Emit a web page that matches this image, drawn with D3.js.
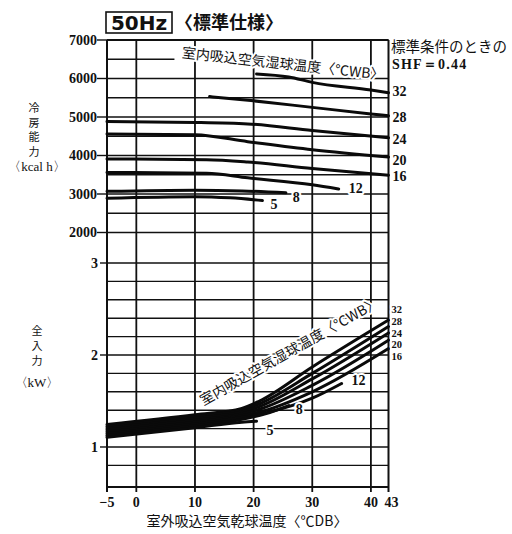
<!DOCTYPE html>
<html>
<head>
<meta charset="utf-8">
<script src="https://cdn.jsdelivr.net/npm/d3@7"></script>
<style>
	body { margin: 0; background: #fff; }
	svg { display: block; }
	.grid { stroke: #111; stroke-width: 1.4; fill: none; }
	.vgrid { stroke: #111; stroke-width: 1.8; fill: none; }
	.frame { stroke: #111; stroke-width: 2; fill: none; }
	.curve { stroke: #0a0a0a; stroke-width: 3; fill: none; stroke-linecap: round; }
	.num { font-family: "Liberation Serif", serif; font-weight: bold; fill: #111; }
	.jp { font-family: "Noto Sans CJK JP", sans-serif; fill: #111; }
	.halo { stroke: #fff; stroke-width: 4; paint-order: stroke; stroke-linejoin: round; }
</style>
</head>
<body>
<svg id="chart"></svg>
<script>
// Outdoor intake air dry bulb temperature (°C DB).
var dbTicks = [-5, 0, 10, 20, 30, 40, 43];
var dbTickLabels = ["−5", "0", "10", "20", "30", "40", "43"];

// Cooling capacity (kcal/h), upper part of the chart.
var capacityTicks = [2000, 3000, 4000, 5000, 6000, 7000];
var capacityGrid = [2000, 2500, 3000, 3500, 4000, 4500, 5000, 5500, 6000, 6500, 7000];

// Input power (kW), lower part of the chart.
var powerTicks = [1, 2, 3];
var powerGrid = [0.8, 1.0, 1.2, 1.4, 1.6, 1.8, 2.0, 2.2, 2.4, 2.6, 2.8, 3.0];

// Indoor intake air wet bulb temperature of each curve (°C WB).
var wetBulbs = [32, 28, 24, 20, 16, 12, 8, 5];

// Capacity curves, [°C DB, kcal/h].
var capacity32 = [[20.5, 6120], [26, 6040], [30, 5900], [40, 5700], [43, 5630]];
var capacity28 = [[12.5, 5530], [20, 5420], [30, 5250], [40, 5080], [43, 5030]];
var capacity24 = [[-5, 4880], [10, 4860], [19, 4820], [30, 4650], [43, 4460]];
var capacity20 = [[-5, 4560], [10, 4540], [19, 4360], [30, 4150], [43, 3960]];
var capacity16 = [[-5, 3910], [12, 3890], [19, 3830], [30, 3660], [43, 3490]];
var capacity12 = [[-5, 3560], [12, 3540], [19, 3420], [30, 3240], [34.5, 3130]];
var capacity8 = [[-5, 3070], [10, 3100], [18, 3080], [25.5, 3030]];
var capacity5 = [[-5, 2890], [10, 2930], [16, 2900], [21.5, 2830]];

// Input power curves, [°C DB, kW].
var power32 = [[-5, 1.245], [10, 1.35], [18, 1.42], [21, 1.50], [30, 1.87], [43, 2.38]];
var power28 = [[-5, 1.225], [10, 1.33], [18, 1.40], [21, 1.47], [30, 1.80], [43, 2.31]];
var power24 = [[-5, 1.205], [10, 1.31], [18, 1.38], [21, 1.44], [30, 1.74], [43, 2.24]];
var power20 = [[-5, 1.185], [10, 1.29], [18, 1.36], [21, 1.41], [30, 1.67], [43, 2.16]];
var power16 = [[-5, 1.165], [10, 1.27], [18, 1.34], [21, 1.38], [30, 1.60], [43, 2.07]];
var power12 = [[-5, 1.145], [10, 1.25], [18, 1.32], [22, 1.37], [30, 1.53], [35, 1.69]];
var power8 = [[-5, 1.125], [10, 1.23], [18, 1.30], [22, 1.36], [26, 1.45]];
var power5 = [[-5, 1.105], [10, 1.21], [18, 1.27], [20.5, 1.28]];

var capacitySeries = [capacity32, capacity28, capacity24, capacity20, capacity16, capacity12, capacity8, capacity5];
var powerSeries = [power32, power28, power24, power20, power16, power12, power8, power5];


/*********
* Setup *
*********/
var width = 512;
var height = 534;

var svg = d3.select("#chart")
	.attr("width", width)
	.attr("height", height);

var x = d3.scaleLinear().domain([-5, 43]).range([107, 388.5]);
var yCap = d3.scaleLinear().domain([2000, 7000]).range([232.5, 40]);
var yPow = d3.scaleLinear().domain([0.565, 3]).range([487, 263]);

var plotTop = yCap(7000);
var plotBottom = yPow(0.565);


/********
* Grid *
********/
// Horizontal lines. The 6500 line is broken off where the wet bulb label sits.
capacityGrid.forEach(function(v)
{
	svg.append("line").attr("class", "grid")
		.attr("x1", x(-5)).attr("x2", v == 6500 ? x(6.5) : x(43))
		.attr("y1", yCap(v)).attr("y2", yCap(v));
});
powerGrid.forEach(function(v)
{
	svg.append("line").attr("class", "grid")
		.attr("x1", x(-5)).attr("x2", x(43))
		.attr("y1", yPow(v)).attr("y2", yPow(v));
});

// Vertical lines, the outer two are the frame.
dbTicks.forEach(function(d)
{
	svg.append("line").attr("class", (d == -5 || d == 43) ? "frame" : "vgrid")
		.attr("x1", x(d)).attr("x2", x(d))
		.attr("y1", plotTop).attr("y2", plotBottom + 5);
});
svg.append("line").attr("class", "frame")
	.attr("x1", x(-5)).attr("x2", x(43))
	.attr("y1", plotTop).attr("y2", plotTop);
svg.append("line").attr("class", "frame")
	.attr("x1", x(-5)).attr("x2", x(43))
	.attr("y1", plotBottom).attr("y2", plotBottom);

// Tick marks on the left.
capacityTicks.forEach(function(v)
{
	svg.append("line").attr("class", "grid")
		.attr("x1", x(-5) - 10).attr("x2", x(-5))
		.attr("y1", yCap(v)).attr("y2", yCap(v));
});
powerTicks.forEach(function(v)
{
	svg.append("line").attr("class", "grid")
		.attr("x1", x(-5) - 7).attr("x2", x(-5))
		.attr("y1", yPow(v)).attr("y2", yPow(v));
});


/***************
* Tick labels *
***************/
svg.selectAll(".capLabel")
	.data(capacityTicks)
	.enter()
	.append("text")
	.attr("class", "num capLabel")
	.attr("x", x(-5) - 10)
	.attr("y", function(d) { return yCap(d); })
	.attr("dy", "0.35em")
	.attr("text-anchor", "end")
	.style("font-size", "14px")
	.text(function(d) { return d; });

svg.selectAll(".powLabel")
	.data(powerTicks)
	.enter()
	.append("text")
	.attr("class", "num powLabel")
	.attr("x", x(-5) - 9)
	.attr("y", function(d) { return yPow(d); })
	.attr("dy", "0.35em")
	.attr("text-anchor", "end")
	.style("font-size", "14px")
	.text(function(d) { return d; });

svg.selectAll(".dbLabel")
	.data(dbTicks)
	.enter()
	.append("text")
	.attr("class", "num dbLabel")
	.attr("x", function(d) { return x(d) + (d == 43 ? 3 : 0); })
	.attr("y", plotBottom + 20)
	.attr("text-anchor", "middle")
	.style("font-size", "14px")
	.text(function(d, i) { return dbTickLabels[i]; });


/**********
* Curves *
**********/
var capLine = d3.line()
	.x(function(d) { return x(d[0]); })
	.y(function(d) { return yCap(d[1]); })
	.curve(d3.curveMonotoneX);
var powLine = d3.line()
	.x(function(d) { return x(d[0]); })
	.y(function(d) { return yPow(d[1]); })
	.curve(d3.curveMonotoneX);

svg.selectAll(".capCurve")
	.data(capacitySeries)
	.enter()
	.append("path")
	.attr("class", "curve capCurve")
	.attr("d", capLine);

svg.selectAll(".powCurve")
	.data(powerSeries)
	.enter()
	.append("path")
	.attr("class", "curve powCurve")
	.attr("d", powLine);


/***************
* Curve names *
***************/
// Label offsets from the curve end, by curve.
var capOffsets = [[4, -2], [4, 1], [4, 1], [4, 3], [4, 1], [10, -1], [7, 4], [8, 4]];
var powOffsets = [[10, -3], [7, 4], [10, 9]];

wetBulbs.forEach(function(wb, i)
{
	var pts = capacitySeries[i];
	var last = pts[pts.length - 1];
	svg.append("text")
		.attr("class", "num halo")
		.attr("x", x(last[0]) + capOffsets[i][0])
		.attr("y", yCap(last[1]) + capOffsets[i][1])
		.attr("dy", "0.35em")
		.style("font-size", "14px")
		.text(wb);
});

// Power labels: the five full curves are stacked tightly at the right edge.
var midEnd = yPow(power24[power24.length - 1][1]);
wetBulbs.forEach(function(wb, i)
{
	var pts = powerSeries[i];
	var last = pts[pts.length - 1];
	var lx, ly;
	if (i < 5)
	{
		lx = x(43) + 3;
		ly = midEnd + (i - 2) * 11.6;
	}
	else
	{
		lx = x(last[0]) + powOffsets[i - 5][0];
		ly = yPow(last[1]) + powOffsets[i - 5][1];
	}
	svg.append("text")
		.attr("class", "num halo")
		.attr("x", lx)
		.attr("y", ly)
		.attr("dy", "0.35em")
		.style("font-size", i < 5 ? "10.5px" : "14px")
		.text(wb);
});

// Slanted curve family titles.
svg.append("text")
	.attr("class", "jp halo")
	.attr("transform", "translate(181.5,57.5) rotate(6.3)")
	.style("font-size", "14px")
	.text("室内吸込空気湿球温度〈℃WB〉");
svg.append("text")
	.attr("class", "jp halo")
	.attr("transform", "translate(203.5,405.8) rotate(-29.5)")
	.style("font-size", "14px")
	.text("室内吸込空気湿球温度〈℃WB〉");


/****************
* Titles, axes *
****************/
svg.append("rect")
	.attr("x", 106).attr("y", 12)
	.attr("width", 66).attr("height", 21)
	.attr("fill", "none").attr("stroke", "#111").attr("stroke-width", 1.6);
svg.append("text")
	.attr("x", 139).attr("y", 30)
	.attr("text-anchor", "middle")
	.style("font-family", "'DejaVu Sans', sans-serif")
	.style("font-weight", "bold")
	.style("font-size", "20px")
	.attr("fill", "#111")
	.text("50Hz");
svg.append("text")
	.attr("class", "jp")
	.attr("x", 175).attr("y", 29)
	.style("font-size", "18px")
	.style("font-weight", "bold")
	.text("〈標準仕様〉");

svg.append("text")
	.attr("class", "jp")
	.attr("x", 391).attr("y", 52)
	.style("font-size", "14.5px")
	.text("標準条件のときの");
svg.append("text")
	.attr("class", "num")
	.attr("x", 392).attr("y", 69)
	.style("font-size", "14px")
	.style("letter-spacing", "1.2px")
	.text("SHF＝0.44");

// Vertical axis titles, one character per line.
["冷", "房", "能", "力"].forEach(function(c, i)
{
	svg.append("text").attr("class", "jp")
		.attr("x", 34).attr("y", 112 + i * 14.5)
		.attr("text-anchor", "middle")
		.style("font-size", "11px")
		.text(c);
});
svg.append("text").attr("class", "num")
	.attr("x", 37).attr("y", 171)
	.attr("text-anchor", "middle")
	.style("font-size", "13px")
	.style("font-weight", "normal")
	.text("〈kcal h〉");

["全", "入", "力"].forEach(function(c, i)
{
	svg.append("text").attr("class", "jp")
		.attr("x", 37).attr("y", 335 + i * 15)
		.attr("text-anchor", "middle")
		.style("font-size", "11px")
		.text(c);
});
svg.append("text").attr("class", "num")
	.attr("x", 37).attr("y", 387)
	.attr("text-anchor", "middle")
	.style("font-size", "13px")
	.style("font-weight", "normal")
	.text("〈kW〉");

svg.append("text").attr("class", "jp")
	.attr("x", 247).attr("y", 526)
	.attr("text-anchor", "middle")
	.style("font-size", "14px")
	.text("室外吸込空気乾球温度〈℃DB〉");
</script>
</body>
</html>
